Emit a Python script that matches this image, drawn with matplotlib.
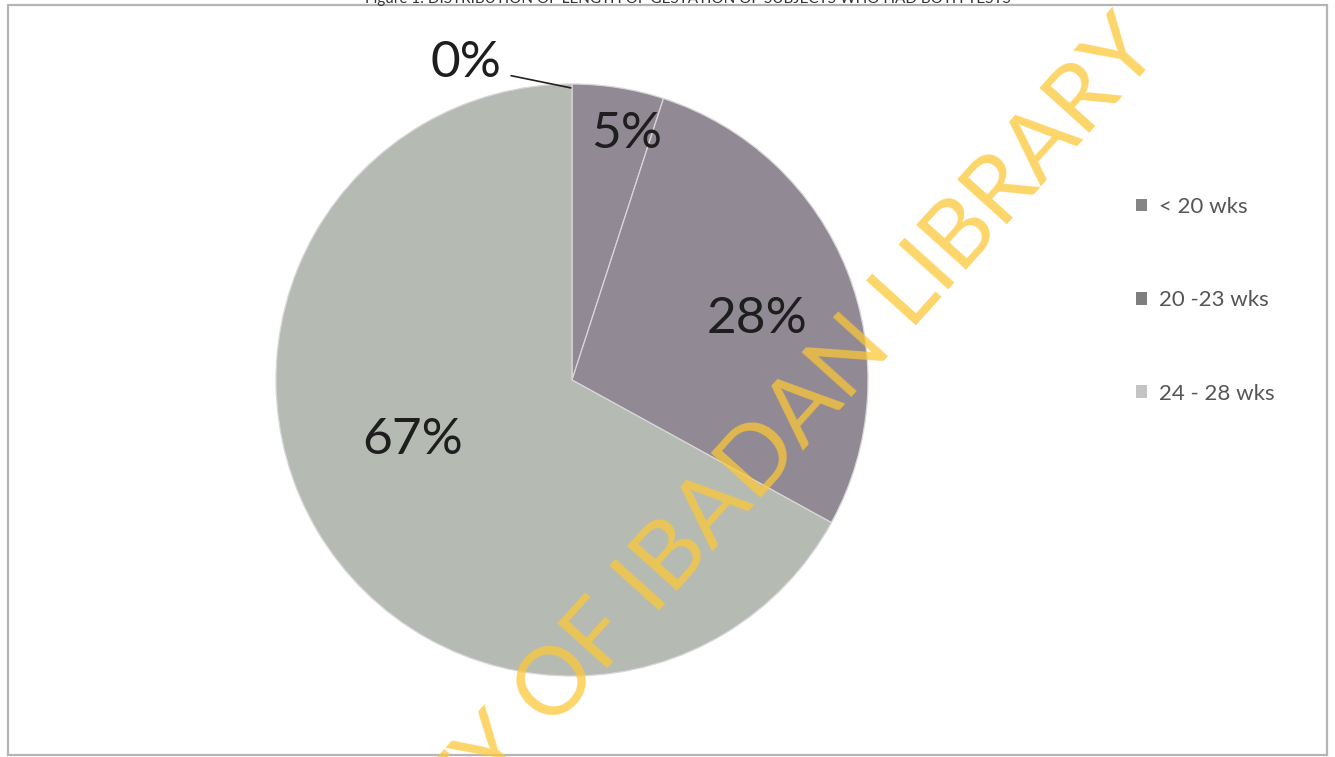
import matplotlib
matplotlib.use("Agg")
import matplotlib.pyplot as plt
from matplotlib.patches import Patch, Rectangle

# Gestation length of subjects who had both tests (percent of subjects)
shares = [0, 5, 28, 67]
slice_colors = ["#8b8590", "#918993", "#918993", "#b5bab3"]
legend_labels = ["< 20 wks", "20 -23 wks", "24 - 28 wks"]
legend_colors = ["#858585", "#7e7e7e", "#c4c4c4"]
title = "Figure 1: DISTRIBUTION OF LENGTH OF GESTATION OF SUBJECTS WHO HAD BOTH TESTS"
watermark = "UNIVERSITY OF IBADAN LIBRARY"

W, H = 1335, 757
fig = plt.figure(figsize=(W / 100, H / 100), dpi=100)
fig.patch.set_facecolor("white")

def fx(px):
    return px / W

def fy(py):
    return 1 - py / H

# chart frame
fig.patches.append(Rectangle((fx(8), fy(755)), fx(1327) - fx(8), fy(5) - fy(755),
                             transform=fig.transFigure, fill=False,
                             edgecolor="#b5b5b5", linewidth=1.6))

# title sits mostly above the visible page edge
fig.text(fx(688), fy(3), title, ha="center", va="baseline", fontsize=11,
         family="Lato", color="#333333")

# pie
cx, cy, r = 572, 380, 296
ax = fig.add_axes([fx(cx - r), fy(cy + r), 2 * r / W, 2 * r / H])
wedges, _ = ax.pie(shares, colors=slice_colors, startangle=90, counterclock=False,
                   radius=1, wedgeprops=dict(edgecolor="#d9d6da", linewidth=0.9))
ax.set_xlim(-1, 1)
ax.set_ylim(-1, 1)
ax.axis("off")

# data labels
label_xy = [(-0.36, 1.07), (0.186, 0.83), (0.625, 0.205), (-0.537, -0.203)]
for v, (lx, ly) in zip(shares, label_xy):
    ax.text(lx, ly, f"{v}%", ha="center", va="center", fontsize=37,
            family="Lato", color="#1e1e1e", clip_on=False)
# leader line for the empty slice
ax.annotate("", xy=(0.005, 0.985), xytext=(-0.215, 1.03),
            arrowprops=dict(arrowstyle="-", color="#222222", lw=1.2),
            annotation_clip=False)

# legend
handles = [Patch(facecolor=c, edgecolor="none") for c in legend_colors]
fig.legend(handles, legend_labels, loc="upper left",
           bbox_to_anchor=(fx(1116), fy(177)), frameon=False,
           prop=dict(family="Lato", size=16), labelcolor="#555555",
           handlelength=0.5, handleheight=0.5, handletextpad=0.55,
           labelspacing=3.3)

# library watermark
fig.text(fx(650), fy(582), watermark, rotation=48, rotation_mode="anchor",
         ha="center", va="center", fontsize=68, family="Lato",
         fontweight="normal", color="#fcc838", alpha=0.75)

fig.savefig("out.png", dpi=100, facecolor="white")
